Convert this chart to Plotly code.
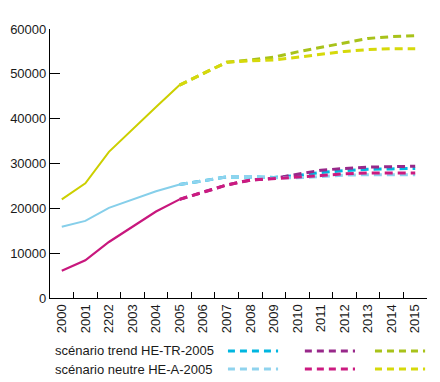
import plotly.graph_objects as go

years = [str(y) for y in range(2000, 2016)]
tick_labels = ["2000", "2001", "2202", "2003", "2004", "2005", "2006", "2007",
               "2008", "2009", "2010", "2011", "2012", "2013", "2014", "2015"]

hist_years = years[:6]
proj_years = years[5:]

# historical (solid)
hist_yellow = [22000, 25600, 32600, 37700, 42600, 47500]
hist_blue = [15900, 17200, 20100, 22000, 23800, 25300]
hist_magenta = [6100, 8400, 12500, 16000, 19300, 22000]

# scénario neutre HE-A-2005
neutre_yellow = [47500, 50000, 52600, 52900, 53100, 53700, 54400, 55000, 55400, 55600, 55600]
neutre_blue = [25300, 26200, 27000, 27100, 26800, 26800, 27100, 27400, 27500, 27500, 27500]
neutre_magenta = [22000, 23600, 25200, 26300, 26600, 26900, 27300, 27700, 27900, 27900, 27900]

# scénario trend HE-TR-2005
trend_olive = [47500, 50000, 52600, 53100, 53700, 54900, 55900, 57000, 57900, 58300, 58500]
trend_cyan = [25300, 26200, 27000, 27000, 26900, 27300, 28000, 28400, 28700, 28800, 28900]
trend_purple = [22000, 23600, 25200, 26300, 26700, 27600, 28500, 28900, 29200, 29300, 29400]

legend_rows = ["scénario trend HE-TR-2005", "scénario neutre HE-A-2005"]

C_YEL_H = "#cccf00"
C_BLUE_H = "#86cfea"
C_MAG_H = "#c8177d"
C_YEL = "#d6d90a"
C_BLUE = "#8fd3ee"
C_MAG = "#cc1a80"
C_OLIVE = "#a8c21a"
C_CYAN = "#00b6e0"
C_PURPLE = "#98288a"

fig = go.Figure()
DASH = "8px,5px"

def add(x, y, color, width, dash="solid"):
    fig.add_trace(go.Scatter(x=x, y=y, mode="lines", showlegend=False, hoverinfo="skip",
                             line=dict(color=color, width=width, dash=dash)))

add(hist_years, hist_yellow, C_YEL_H, 2)
add(hist_years, hist_blue, C_BLUE_H, 2)
add(hist_years, hist_magenta, C_MAG_H, 2.2)

add(proj_years, trend_olive, C_OLIVE, 3, DASH)
add(proj_years, trend_cyan, C_CYAN, 3, DASH)
add(proj_years, trend_purple, C_PURPLE, 3, DASH)
add(proj_years, neutre_yellow, C_YEL, 3, DASH)
add(proj_years, neutre_blue, C_BLUE, 3, DASH)
add(proj_years, neutre_magenta, C_MAG, 3, DASH)

# custom legend
rows_y = [-0.197, -0.264]
row_colors = [[C_CYAN, C_PURPLE, C_OLIVE], [C_BLUE, C_MAG, C_YEL]]
seg_x = [(0.472, 0.605), (0.676, 0.809), (0.862, 0.995)]
shapes = []
annotations = []
for ry, label, cols in zip(rows_y, legend_rows, row_colors):
    annotations.append(dict(text=label, x=0.008, y=ry, xref="paper", yref="paper",
                            xanchor="left", yanchor="middle", showarrow=False,
                            font=dict(size=13, color="#1a1a1a")))
    for (x0, x1), c in zip(seg_x, cols):
        shapes.append(dict(type="line", xref="paper", yref="paper", x0=x0, x1=x1, y0=ry, y1=ry,
                           line=dict(color=c, width=3, dash="7px,5px")))

fig.update_layout(
    width=440, height=382,
    margin=dict(l=50, r=13, t=29, b=84, autoexpand=False),
    paper_bgcolor="white", plot_bgcolor="white",
    font=dict(family="Liberation Sans, Arial, sans-serif", size=13, color="#1a1a1a"),
    shapes=shapes, annotations=annotations,
    xaxis=dict(type="category", categoryorder="array", categoryarray=years,
               tickvals=years, ticktext=tick_labels, tickangle=-90,
               tickson="boundaries", ticks="inside", ticklen=6, tickcolor="black",
               showline=True, linecolor="black", linewidth=1.2, showgrid=False,
               range=[-0.5, 15.5], zeroline=False, automargin=False),
    yaxis=dict(range=[0, 60000], tickvals=[0, 10000, 20000, 30000, 40000, 50000, 60000],
               ticks="inside", ticklen=10, tickcolor="black", showline=True,
               linecolor="black", linewidth=1.2, showgrid=False, zeroline=False,
               tickformat="d", automargin=False),
)

fig.write_html("out.html", config={"displayModeBar": False},
               post_script="document.body.style.margin='0';document.body.style.padding='0';")
